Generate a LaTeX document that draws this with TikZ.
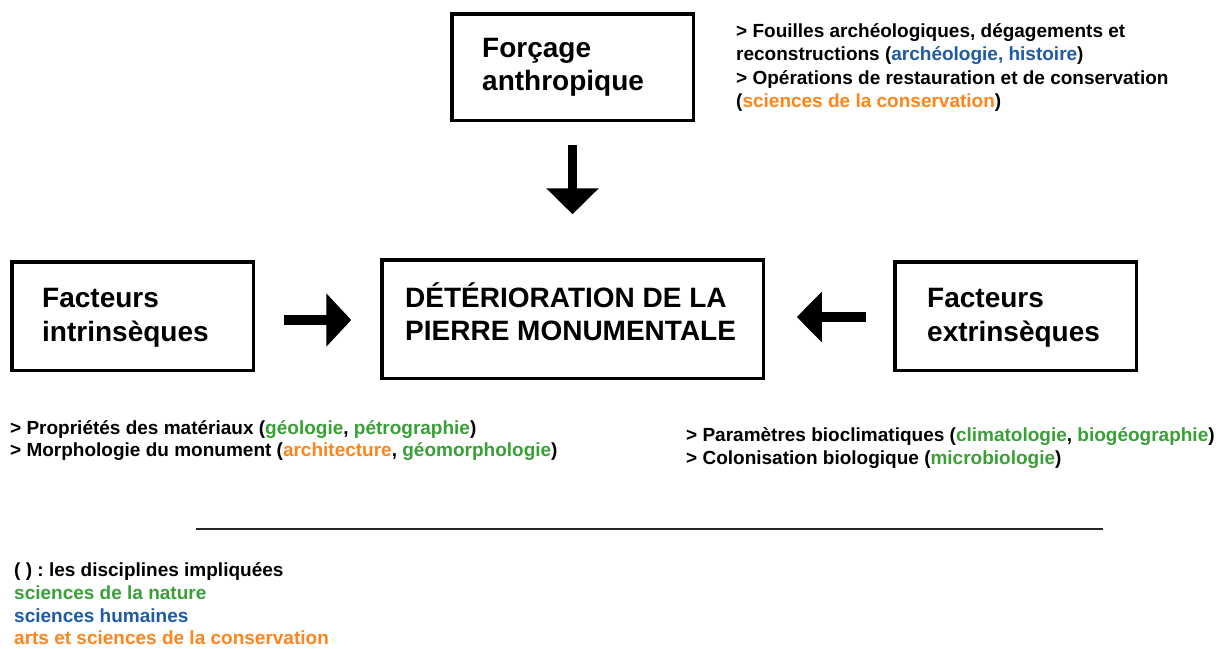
\documentclass[tikz,border=0pt]{standalone}
\usepackage{fontspec}
\setmainfont{Liberation Sans}
\frenchspacing
\usetikzlibrary{arrows.meta}
\definecolor{cgreen}{RGB}{57,160,55}
\definecolor{cblue}{RGB}{31,90,166}
\definecolor{corange}{RGB}{255,133,27}
\tikzset{
  box/.style={draw=black, line width=3.5pt, rectangle, inner sep=0pt},
  bigtxt/.style={anchor=base west, inner sep=0pt, font=\fontsize{28}{33}\selectfont\bfseries},
  smalltxt/.style={anchor=base west, inner sep=0pt, font=\fontsize{19}{23}\selectfont\bfseries},
  bigarrow/.style={line width=#1, draw=black},
}
\newcommand{\cg}[1]{\textcolor{cgreen}{#1}}
\newcommand{\cb}[1]{\textcolor{cblue}{#1}}
\newcommand{\co}[1]{\textcolor{corange}{#1}}
\begin{document}
\begin{tikzpicture}[x=1pt,y=-1pt]
\useasboundingbox[fill=white] (0,0) rectangle (1228,648);

% boxes
\node[box, minimum width=241.5pt, minimum height=106.5pt] (top) at (572.5,67) {};
\node[box, minimum width=381.5pt, minimum height=118.5pt] (center) at (572.5,319) {};
\node[box, minimum width=241.5pt, minimum height=108.5pt] (left) at (132.5,316) {};
\node[box, minimum width=241.5pt, minimum height=108.5pt] (right) at (1015.5,316) {};

% box texts
\node[bigtxt] (top1) at (482,57) {Forçage};
\node[bigtxt] (top2) at (482,90) {anthropique};
\node[bigtxt] (cen1) at (405,307) {DÉTÉRIORATION DE LA};
\node[bigtxt] (cen2) at (405,340) {PIERRE MONUMENTALE};
\node[bigtxt] (lef1) at (42,307) {Facteurs};
\node[bigtxt] (lef2) at (42,341) {intrinsèques};
\node[bigtxt] (rig1) at (927,307) {Facteurs};
\node[bigtxt] (rig2) at (927,341) {extrinsèques};

% arrows
\draw[bigarrow=9pt, -{Triangle[width=51pt,length=26pt]}]
  ([yshift=-22.75pt]top.south) -- ([yshift=43.75pt]center.north);
\draw[bigarrow=10pt, -{Triangle[width=52pt,length=25pt]}]
  ([xshift=28.75pt,yshift=-4pt]left.east) -- ([xshift=-28.75pt,yshift=-1pt]center.west);
\draw[bigarrow=10pt, -{Triangle[width=49pt,length=25pt]}]
  ([xshift=-26.75pt,yshift=-1pt]right.west) -- ([xshift=31.75pt,yshift=2pt]center.east);

% top-right text
\node[smalltxt] (t1) at (736,37) {> Fouilles archéologiques, dégagements et};
\node[smalltxt] (t2) at (736,60) {reconstructions (\cb{archéologie, histoire})};
\node[smalltxt] (t3) at (736,84) {> Opérations de restauration et de conservation};
\node[smalltxt] (t4) at (736,107) {(\co{sciences de la conservation})};

% bottom-left text
\node[smalltxt] (l1) at (10,434) {> Propriétés des matériaux (\cg{géologie}, \cg{pétrographie})};
\node[smalltxt] (l2) at (10,456) {> Morphologie du monument (\co{architecture}, \cg{géomorphologie})};

% bottom-right text
\node[smalltxt] (r1) at (686,441) {> Paramètres bioclimatiques (\cg{climatologie}, \cg{biogéographie})};
\node[smalltxt] (r2) at (686,464) {> Colonisation biologique (\cg{microbiologie})};

% separator
\coordinate (sepL) at (196,529);
\coordinate (sepR) at (1103,529);
\draw[line width=1.8pt, draw=black!85] (sepL) -- (sepR);

% legend
\node[smalltxt] (g1) at (14,576) {( ) : les disciplines impliquées};
\node[smalltxt, text=cgreen] (g2) at (14,599) {sciences de la nature};
\node[smalltxt, text=cblue] (g3) at (14,622) {sciences humaines};
\node[smalltxt, text=corange] (g4) at (14,644) {arts et sciences de la conservation};
\end{tikzpicture}
\end{document}
